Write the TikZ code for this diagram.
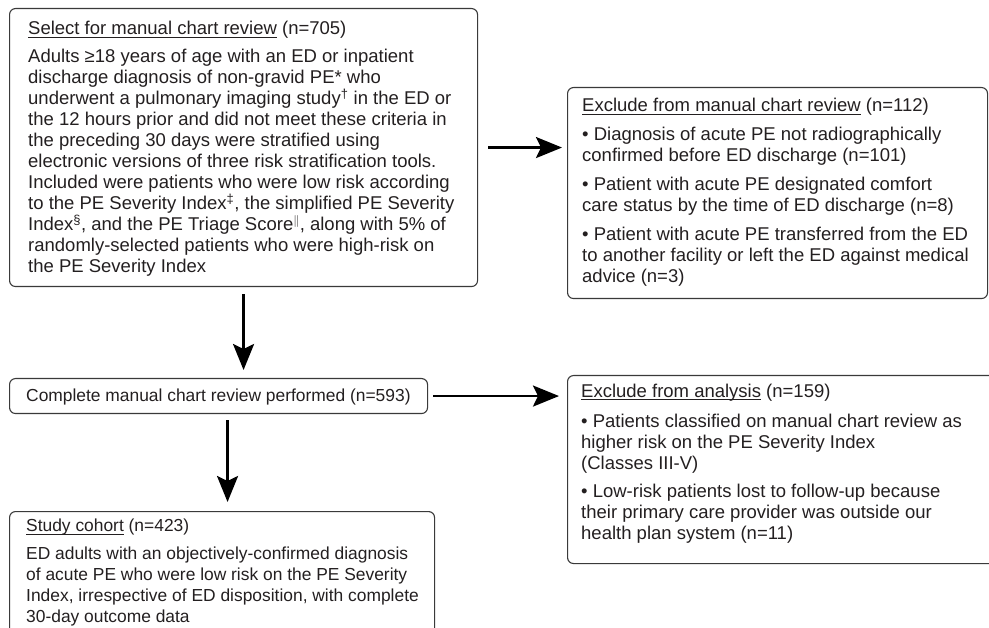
\documentclass[tikz,border=0pt]{standalone}
\usepackage{fontspec}
\setmainfont{Liberation Sans}
\usepackage{xcolor}
\usetikzlibrary{positioning, calc, arrows.meta}
\definecolor{ink}{HTML}{231F20}
\definecolor{frame}{HTML}{3A3A3A}
% underlined heading with a fixed rule below the baseline
\newcommand{\hdr}[1]{\leavevmode\setbox0\hbox{#1}\rlap{\rule[-2.8pt]{\wd0}{0.9pt}}\box0\relax}

\begin{document}
\begin{tikzpicture}[x=1pt, y=-1pt, >={Stealth[length=26pt, width=21pt, inset=5pt]},
    box/.style={draw=frame, line width=1.1pt, rounded corners=6pt, anchor=north west, inner sep=0pt},
    txt/.style={anchor=base west, inner sep=0pt, text=ink, font=\fontsize{18.5}{21}\selectfont},
    txtsm/.style={txt, font=\fontsize{17.4}{21}\selectfont},
    arr/.style={->, line width=2.6pt, black}]

    \useasboundingbox (0,0) rectangle (989,628);
    \clip (0,0) rectangle (989,628);

    % --- Boxes ---
    % Select for manual chart review
    \node[box, minimum width=468pt, minimum height=278pt] (sel) at (9,8) {};
    % Exclude from manual chart review
    \node[box, minimum width=420pt, minimum height=211pt] (exman) at (567,87) {};
    % Complete manual chart review
    \node[box, minimum width=418pt, minimum height=35pt] (rev) at (9,378) {};
    % Exclude from analysis (runs off the right edge)
    \node[box, minimum width=440pt, minimum height=188pt] (exan) at (567,375) {};
    % Study cohort (runs off the bottom edge)
    \node[box, minimum width=425pt, minimum height=130pt] (coh) at (9,511) {};

    % --- Texts ---
    \node[txt] (selT) at (28,35) {\parbox[t]{480pt}{%
        \hdr{Select for manual chart review} (n=705)\\[7pt]
        Adults ≥18 years of age with an ED or inpatient\\
        discharge diagnosis of non-gravid PE* who\\
        underwent a pulmonary imaging study\textsuperscript{\dag} in the ED or\\
        the 12 hours prior and did not meet these criteria in\\
        the preceding 30 days were stratified using\\
        electronic versions of three risk stratification tools.\\
        Included were patients who were low risk according\\
        to the PE Severity Index\textsuperscript{\ddag}, the simplified PE Severity\\
        Index\textsuperscript{\S}, and the PE Triage Score$^{\|}$, along with 5\% of\\
        randomly-selected patients who were high-risk on\\
        the PE Severity Index}};

    \node[txt] (exmanT) at (582,112) {\parbox[t]{420pt}{%
        \hdr{Exclude from manual chart review} (n=112)\\[8pt]
        • Diagnosis of acute PE not radiographically\\
        confirmed before ED discharge (n=101)\\[8pt]
        • Patient with acute PE designated comfort\\
        care status by the time of ED discharge (n=8)\\[8pt]
        • Patient with acute PE transferred from the ED\\
        to another facility or left the ED against medical\\
        advice (n=3)}};

    \node[txtsm] (revT) at (26,401.7) {Complete manual chart review performed (n=593)};

    \node[txt] (exanT) at (581,397.5) {\parbox[t]{420pt}{%
        \hdr{Exclude from analysis} (n=159)\\[9.5pt]
        • Patients classified on manual chart review as\\
        higher risk on the PE Severity Index\\
        (Classes III-V)\\[7pt]
        • Low-risk patients lost to follow-up because\\
        their primary care provider was outside our\\
        health plan system (n=11)}};

    \node[txtsm] (cohT) at (26,531.7) {\parbox[t]{440pt}{%
        \hdr{Study cohort} (n=423)\\[7.3pt]
        ED adults with an objectively-confirmed diagnosis\\
        of acute PE who were low risk on the PE Severity\\
        Index, irrespective of ED disposition, with complete\\
        30-day outcome data}};

    % --- Arrows ---
    \draw[arr, shorten <=7pt, shorten >=8pt] (sel.south) -- (sel.south |- rev.north);
    \draw[arr, shorten <=10pt, shorten >=5pt] (sel.east) -- (sel.east -| exman.west);
    \draw[arr, shorten <=5pt, shorten >=8pt] (rev.east) -- (rev.east -| exan.west);
    \draw[arr, shorten <=6pt, shorten >=9pt] ([xshift=9pt]rev.south) -- ([xshift=9pt]rev.south |- coh.north);

\end{tikzpicture}
\end{document}
